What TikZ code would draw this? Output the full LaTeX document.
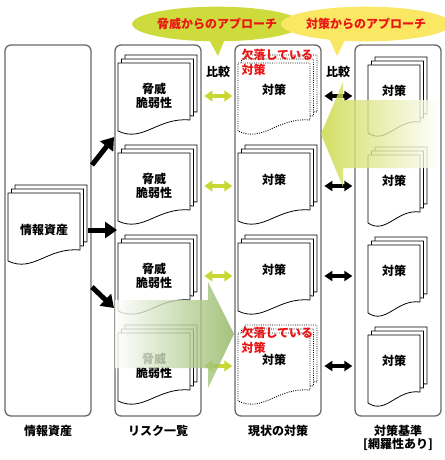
\documentclass[tikz,border=0pt]{standalone}
\usepackage{fontspec}
\setmainfont{Noto Sans CJK JP}
\usetikzlibrary{arrows.meta,positioning,shapes.geometric}

\definecolor{panelgray}{RGB}{105,105,105}
\definecolor{cmpgreen}{RGB}{200,215,50}
\definecolor{threatgreen}{RGB}{205,220,60}
\definecolor{ctrlyellow}{RGB}{250,232,100}
\definecolor{biggreen}{RGB}{140,180,90}
\definecolor{bigyellow}{RGB}{200,215,60}
\definecolor{missred}{RGB}{235,20,20}

% one page of a document, top left at (#1,#2), width #3
\newcommand{\pg}[3]{(#1,#2) -- (#1+#3,#2) -- (#1+#3,#2+57) .. controls (#1+0.55*#3,#2+54) and (#1+0.35*#3,#2+80) .. (#1,#2+68) -- cycle}
% stack of three pages: left x, top y, width, style
\newcommand{\docstack}[4]{%
  \draw[#4] \pg{#1+7}{#2-8}{#3};
  \draw[#4] \pg{#1+3.5}{#2-4}{#3};
  \draw[#4] \pg{#1}{#2}{#3};}

\tikzset{every picture/.style={line width=0.75pt}}
\tikzset{
  panel/.style={draw=panelgray, line width=1pt, rounded corners=4.5pt, minimum width=64.5pt, minimum height=278.25pt, inner sep=0pt},
  page/.style={draw=black, fill=white, line width=0.6pt},
  misspage/.style={draw=black, fill=white, line width=0.7pt, densely dotted},
  lbl/.style={inner sep=0.75pt, font=\bfseries\fontsize{9}{10}\selectfont, align=center},
  misslbl/.style={lbl, text=missred, anchor=west, align=left, font=\bfseries\fontsize{9}{11.25}\selectfont},
  cmpg/.style={draw=cmpgreen, line width=3pt, {Triangle[width=8pt,length=6pt]}-{Triangle[width=8pt,length=6pt]}, shorten <=2pt, shorten >=1.5pt},
  cmpk/.style={draw=black, line width=3pt, {Triangle[width=7.5pt,length=6pt]}-{Triangle[width=7.5pt,length=6pt]}, shorten <=2pt, shorten >=1.5pt},
  feed/.style={draw=black, line width=3.75pt, -{Triangle[width=12pt,length=9pt]}},
  callout/.style={ellipse, inner sep=0pt, minimum width=105pt, minimum height=26pt, text=missred, font=\bfseries\fontsize{9}{10}\selectfont},
}

\begin{document}
\begin{tikzpicture}[x=0.75pt,y=0.75pt,yscale=-1,xscale=1]
\useasboundingbox (0,0) rectangle (445,460);

% Panels
\node[panel] (asset) at (48,230.5) {};
\node[panel] (risk) at (158,230.5) {};
\node[panel] (current) at (278,230.5) {};
\node[panel] (basis) at (398,230.5) {};

% Panel titles
\node[lbl, below=5pt of asset] (assetlbl) {情報資産};
\node[lbl, below=5pt of risk] (risklbl) {リスク一覧};
\node[lbl, below=5pt of current] (currentlbl) {現状の対策};
\node[lbl, below=5pt of basis] (basislbl) {対策基準\\{[網羅性あり]}};

% Information asset
\docstack{8}{193}{72}{page}
\node[lbl] (a0) at (44,230) {情報資産};

% Risk list
\docstack{118}{63}{72}{page}
\docstack{118}{153}{72}{page}
\docstack{118}{243}{72}{page}
\docstack{118}{333}{72}{page}
\node[lbl] (r1) at (154,96) {脅威\\脆弱性};
\node[lbl] (r2) at (154,186) {脅威\\脆弱性};
\node[lbl] (r3) at (154,276) {脅威\\脆弱性};
\node[lbl] (r4) at (154,366) {脅威\\脆弱性};

% Current measures
\docstack{238}{63}{72}{misspage}
\docstack{238}{153}{72}{page}
\docstack{238}{243}{72}{page}
\docstack{238}{333}{72}{misspage}
\node[lbl] (c1) at (274,90) {対策};
\node[lbl] (c2) at (274,180) {対策};
\node[lbl] (c3) at (274,270) {対策};
\node[lbl] (c4) at (274,360) {対策};
\node[misslbl] (m1) at (240,62) {欠落している\\対策};
\node[misslbl] (m4) at (240,340) {欠落している\\対策};

% Baseline
\docstack{368}{65}{52}{page}
\docstack{368}{155}{52}{page}
\docstack{368}{245}{52}{page}
\docstack{368}{335}{52}{page}
\node[lbl] (b1) at (394,91) {対策};
\node[lbl] (b2) at (394,181) {対策};
\node[lbl] (b3) at (394,271) {対策};
\node[lbl] (b4) at (394,361) {対策};

% Asset -> risks
\coordinate (f1s) at (92,165);
\coordinate (f1e) at (114,137);
\coordinate (f2s) at (88,230);
\coordinate (f2e) at (117,230);
\coordinate (f3s) at (92,287);
\coordinate (f3e) at (114,308);
\draw[feed] (f1s) -- (f1e);
\draw[feed] (f2s) -- (f2e);
\draw[feed] (f3s) -- (f3e);

% Comparisons
\node[lbl] (cmp1) at (218,72) {比較};
\node[lbl] (cmp2) at (338,72) {比較};
\foreach \i in {1,...,4}{
  \draw[cmpg] (risk.east |- r\i) -- (current.west |- r\i);
  \draw[cmpk] (current.east |- r\i) -- (basis.west |- r\i);
}

% Approach arrows
\shade[left color=white, right color=biggreen, fill opacity=0.8] (115,300) -- (208,300) -- (208,282) -- (234,334) -- (208,388) -- (208,368) -- (115,368) -- cycle;
\shade[left color=bigyellow, right color=white, fill opacity=0.8] (321,134) -- (343,82) -- (343,100) -- (440,100) -- (440,168) -- (343,168) -- (343,187) -- cycle;

% Callouts
\fill[threatgreen] (207,36) -- (226,36) -- (218,56) -- cycle;
\node[callout, fill=threatgreen] (threat) at (217,24) {脅威からのアプローチ};
\fill[ctrlyellow] (328,36) -- (347,36) -- (337,56) -- cycle;
\node[callout, fill=ctrlyellow] (ctrl) at (366,24) {対策からのアプローチ};
\end{tikzpicture}
\end{document}
